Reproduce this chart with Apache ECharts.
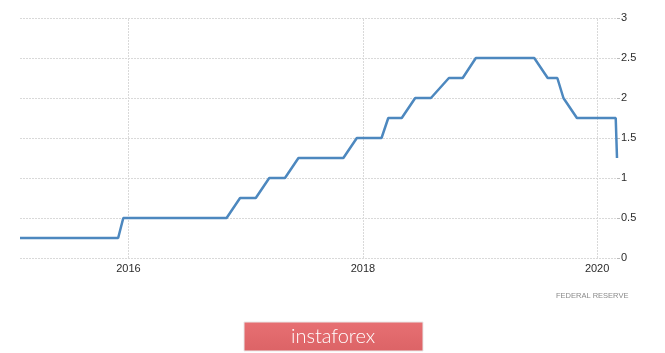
<!DOCTYPE html>
<html>
<head>
<meta charset="utf-8">
<script src="https://cdn.jsdelivr.net/npm/echarts@6/dist/echarts.min.js"></script>
<style>
html,body{margin:0;padding:0;background:#fff;}
#chart{width:665px;height:353px;}
</style>
</head>
<body>
<div id="chart"></div>
<script>
// Federal funds rate (upper bound), dates of observations
const dates = ['2015-01-28','2015-03-18','2015-04-29','2015-06-17','2015-07-29','2015-09-17','2015-10-28','2015-11-30',
  '2015-12-16','2016-01-27','2016-03-16','2016-04-27','2016-06-15','2016-07-27','2016-09-21','2016-11-02',
  '2016-12-14','2017-02-01','2017-03-15','2017-05-03','2017-06-14','2017-07-26','2017-09-20','2017-11-01',
  '2017-12-13','2018-01-31','2018-02-28','2018-03-21','2018-05-02','2018-06-13','2018-08-01','2018-09-26',
  '2018-11-08','2018-12-19','2019-01-30','2019-03-20','2019-05-01','2019-06-19','2019-07-31','2019-08-30',
  '2019-09-18','2019-10-30','2019-12-11','2020-01-29','2020-02-28','2020-03-03'];
const values = [0.25,0.25,0.25,0.25,0.25,0.25,0.25,0.25,
  0.5,0.5,0.5,0.5,0.5,0.5,0.5,0.5,
  0.75,0.75,1.0,1.0,1.25,1.25,1.25,1.25,
  1.5,1.5,1.5,1.75,1.75,2.0,2.0,2.25,
  2.25,2.5,2.5,2.5,2.5,2.5,2.25,2.25,
  2.0,1.75,1.75,1.75,1.75,1.25];
const yearTicks = ['2016-01-01','2018-01-01','2020-01-01'];
const yearLabels = ['2016','2018','2020'];
const yTicks = [0,0.5,1,1.5,2,2.5,3];
const sourceText = 'FEDERAL RESERVE';
const brandText = 'instaforex';

const chart = echarts.init(document.getElementById('chart'));
const gridColor = '#d9d9d9';
const labelFont = 'Liberation Sans, Arial, sans-serif';
chart.setOption({
  animation: false,
  backgroundColor: '#ffffff',
  grid: {left: 20, right: 48, top: 18, bottom: 95, containLabel: false},
  xAxis: {
    type: 'time',
    min: dates[0],
    max: dates[dates.length - 1],
    axisLine: {show: false},
    axisTick: {show: false},
    axisLabel: {show: false},
    splitLine: {show: false}
  },
  yAxis: {
    type: 'value',
    position: 'right',
    min: yTicks[0],
    max: yTicks[yTicks.length - 1],
    interval: 0.5,
    axisLine: {show: false},
    axisTick: {show: true, length: 3, lineStyle: {color: '#bbbbbb'}},
    axisLabel: {
      margin: 4,
      color: '#2b2b2b',
      fontSize: 11,
      fontFamily: labelFont,
      formatter: v => String(v)
    },
    splitLine: {show: true, lineStyle: {color: gridColor, type: [2, 1], width: 1}}
  },
  series: [
    {
      type: 'line',
      z: 1,
      data: [],
      markLine: {
        silent: true,
        symbol: 'none',
        z: 1,
        lineStyle: {color: gridColor, type: [2, 1], width: 1},
        label: {
          show: true,
          position: 'start',
          distance: 5,
          color: '#2b2b2b',
          fontSize: 11,
          fontFamily: labelFont,
          formatter: p => yearLabels[p.dataIndex]
        },
        data: yearTicks.map(t => ({xAxis: t}))
      }
    },
    {
      type: 'line',
      z: 5,
      data: dates.map((d, i) => [d, values[i]]),
      showSymbol: false,
      symbol: 'none',
      lineStyle: {color: '#4d88bf', width: 2.5}
    }
  ],
  graphic: [
    {
      type: 'text', left: 556, top: 292,
      style: {text: sourceText, fill: '#8a8a8a', fontSize: 7.5, fontFamily: labelFont}
    },
    {
      type: 'rect', shape: {x: 244, y: 322, width: 179, height: 29},
      style: {fill: new echarts.graphic.LinearGradient(0, 0, 0, 1, [
        {offset: 0, color: '#e77073'}, {offset: 1, color: '#dc6366'}]), stroke: '#e9e9e9', lineWidth: 1}
    },
    {
      type: 'text', x: 333, y: 337,
      style: {text: brandText, fill: '#ffffff', fontSize: 20, fontFamily: 'Lato, Open Sans, sans-serif',
        fontWeight: 300, align: 'center', verticalAlign: 'middle'}
    }
  ]
});
</script>
</body>
</html>
